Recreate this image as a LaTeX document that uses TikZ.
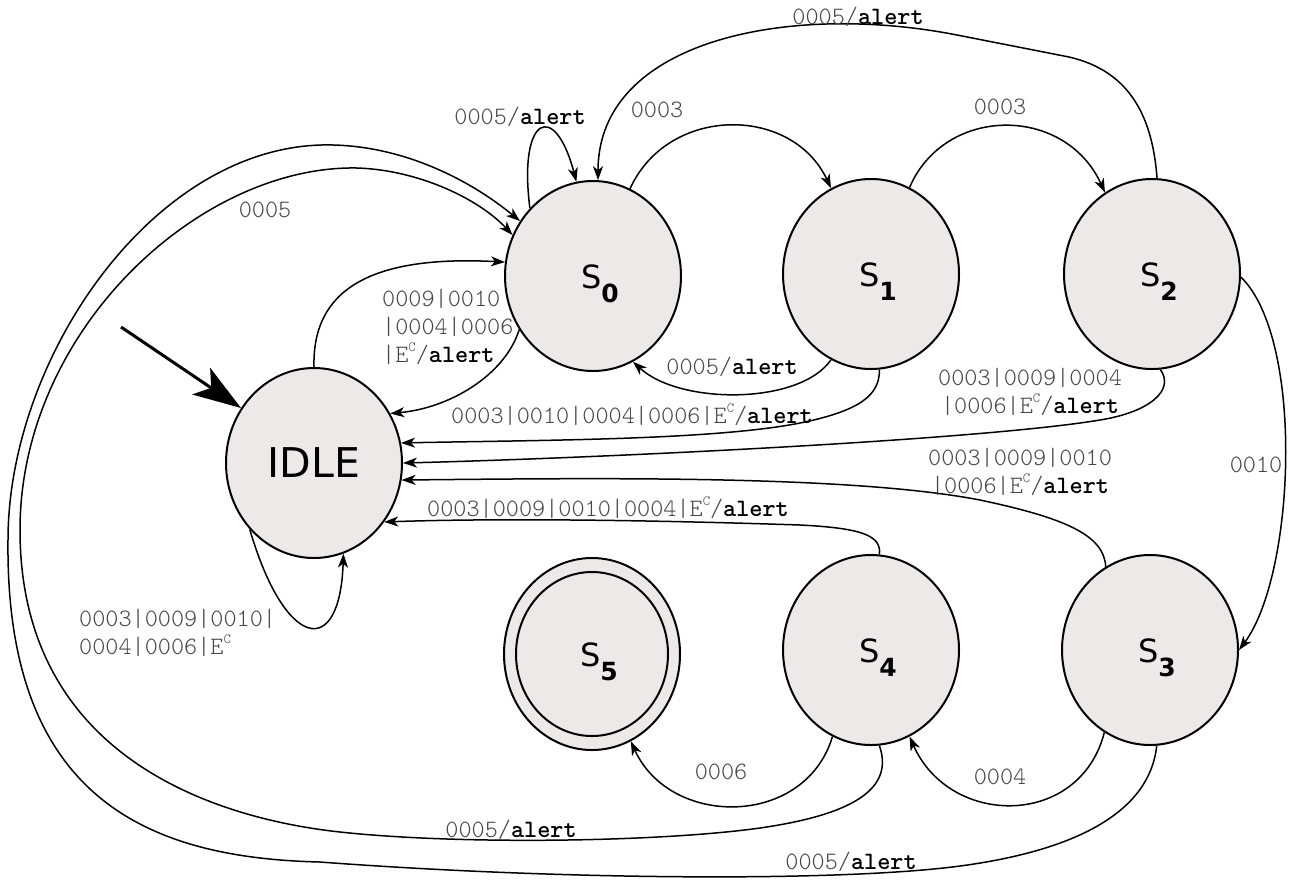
\documentclass[tikz,border=0pt]{standalone}
\usepackage{fontspec}
\setmainfont{DejaVu Sans}
\usetikzlibrary{shapes.geometric,arrows.meta}
\definecolor{statefill}{RGB}{237,233,233}
\definecolor{lblgray}{RGB}{70,70,70}
\newcommand\sname[1]{\hspace*{14pt}\raisebox{-8pt}[\height][\depth]{\fontsize{32}{32}\selectfont S\raisebox{-14pt}{\fontsize{25}{25}\selectfont\bfseries #1}}}
\newcommand\al{{\color{black}\fontseries{b}\selectfont alert}}
\newcommand\EC{E\raisebox{11pt}[0pt][0pt]{\fontsize{14}{14}\selectfont C}}
\tikzset{
  stnode/.style={ellipse, draw, line width=2pt, fill=statefill, minimum width=176pt, minimum height=190pt, inner sep=0pt},
  conn/.style={line width=1.5pt, -{Stealth[length=14pt,width=10pt,inset=4pt]}},
  elbl/.style={font=\ttfamily\fontseries{l}\fontsize{25}{28}\selectfont, text=lblgray, inner sep=0pt, align=center},
}
\begin{document}
\begin{tikzpicture}[x=1pt,y=-1pt]
\useasboundingbox (0,0) rectangle (1297,879);
% states
\node[stnode] (IDLE) at (314,463) {\fontsize{41}{41}\selectfont IDLE};
\node[stnode] (S0) at (593,276) {\sname{0}};
\node[stnode] (S1) at (871,274) {\sname{1}};
\node[stnode] (S2) at (1152,274) {\sname{2}};
\node[stnode] (S3) at (1150,650) {\sname{3}};
\node[stnode] (S4) at (871,650) {\sname{4}};
\node[stnode, minimum height=192pt] (S5) at (592,654) {\sname{5}};
\draw[line width=2pt] (S5.center) ellipse [x radius=76pt, y radius=82pt];
% initial arrow
\coordinate (init) at (121,327);
\draw[line width=3pt, -{Stealth[length=48pt,width=32pt,inset=12pt]}] (init) -- (IDLE.143);
% transitions
\draw[conn] (S0.133) .. controls (518,115) and (555,100) .. (S0.100);
\draw[conn] (S2.87) .. controls (1152,110) and (1125,70) .. (1069,57) -- (957,35) .. controls (789,2) and (598,40) .. (S0.87);
\draw[conn] (S0.67) .. controls (668,105) and (792,105) .. (S1.115);
\draw[conn] (S1.66) .. controls (945,105) and (1065,105) .. (S2.120);
\draw[conn] (S2.-2) .. controls (1305,340) and (1295,575) .. (S3.0);
\draw[conn] (S3.241) .. controls (1080,828) and (950,828) .. (S4.294);
\draw[conn] (S4.246) .. controls (805,828) and (670,828) .. (S5.294);
\draw[conn] (S1.245) .. controls (800,405) and (680,405) .. (S0.-65);
\draw[conn] (S1.275) .. controls (880,395) and (860,410) .. (805,422) .. controls (720,440) and (550,440) .. (IDLE.13);
\draw[conn] (S2.275) .. controls (1175,390) and (1150,412) .. (1100,420) .. controls (980,440) and (600,458) .. (IDLE.0);
\draw[conn] (S3.118) .. controls (1104,535) and (1065,518) .. (980,500) .. controls (850,475) and (600,478) .. (IDLE.-11);
\draw[conn] (S4.85) .. controls (882,535) and (860,528) .. (800,525) .. controls (650,520) and (500,518) .. (IDLE.-40);
\draw[conn] (S0.216) .. controls (505,375) and (450,408) .. (IDLE.33);
\draw[conn] (IDLE.90) .. controls (312,290) and (370,255) .. (S0.171);
\draw[conn] (IDLE.226) .. controls (285,650) and (340,660) .. (IDLE.288);
\draw[conn] (S3.274) .. controls (1150,810) and (1080,850) .. (960,866) .. controls (840,882) and (560,880) .. (320,862) .. controls (150,858) and (5,800) .. (8,540) .. controls (8,360) and (150,150) .. (321,145) .. controls (400,143) and (470,180) .. (S0.143);
\draw[conn] (S4.275) .. controls (895,790) and (850,815) .. (760,828) .. controls (660,842) and (460,845) .. (340,832) .. controls (220,819) and (20,760) .. (20,530) .. controls (20,330) and (200,165) .. (357,168) .. controls (420,170) and (480,200) .. (S0.153);
% labels
\node[elbl] (l1) at (520,117) {0005/\al};
\node[elbl] (l2) at (858,17) {0005/\al};
\node[elbl] (l3) at (657,110) {0003};
\node[elbl] (l4) at (1000,107) {0003};
\node[elbl] (l5) at (265,210) {0005};
\node[elbl, align=left, anchor=west] (l6) at (382,327) {0009|0010\\|0004|0006\\|\EC/\al};
\node[elbl] (l7) at (732,367) {0005/\al};
\node[elbl] (l8) at (632,416) {0003|0010|0004|0006|\EC/\al};
\node[elbl] (l9) at (1030,392) {0003|0009|0004\\|0006|\EC/\al};
\node[elbl] (l10) at (1020,472) {0003|0009|0010\\|0006|\EC/\al};
\node[elbl] (l11) at (608,509) {0003|0009|0010|0004|\EC/\al};
\node[elbl, align=left, anchor=west] (l12) at (79,633) {0003|0009|0010|\\0004|0006|\EC};
\node[elbl] (l13) at (1256,465) {0010};
\node[elbl] (l14) at (1000,777) {0004};
\node[elbl] (l15) at (721,772) {0006};
\node[elbl] (l16) at (511,830) {0005/\al};
\node[elbl] (l17) at (851,862) {0005/\al};
\end{tikzpicture}
\end{document}
